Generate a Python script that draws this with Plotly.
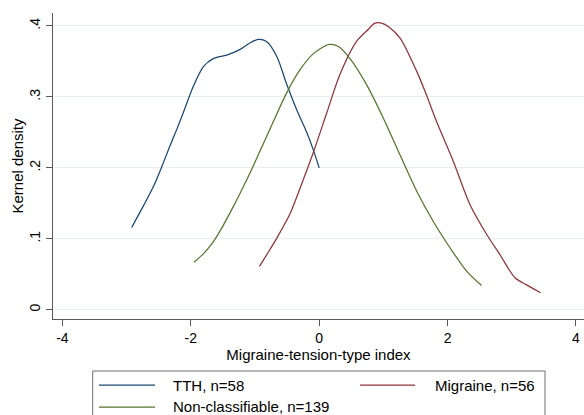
import plotly.graph_objects as go

# ---- data ----
tth_x = [-2.92, -2.74, -2.58, -2.45, -2.32, -2.21, -2.12, -1.96, -1.80, -1.65, -1.44,
         -1.23, -1.08, -0.95, -0.82, -0.66, -0.51, -0.35, -0.19, -0.09, 0.00]
tth_y = [0.116, 0.146, 0.174, 0.202, 0.232, 0.256, 0.277, 0.315, 0.343, 0.354, 0.359,
         0.367, 0.376, 0.381, 0.378, 0.357, 0.319, 0.282, 0.249, 0.225, 0.200]

noncl_x = [-1.95, -1.80, -1.67, -1.55, -1.34, -1.13, -1.03, -0.92, -0.71, -0.51, -0.30,
           -0.09, 0.16, 0.30, 0.48, 0.74, 1.00, 1.26, 1.52, 1.78, 2.04, 2.30, 2.53]
noncl_y = [0.067, 0.079, 0.093, 0.110, 0.145, 0.183, 0.202, 0.224, 0.266, 0.305, 0.338,
           0.361, 0.374, 0.371, 0.354, 0.317, 0.270, 0.218, 0.167, 0.124, 0.087, 0.054, 0.034]

mig_x = [-0.93, -0.80, -0.66, -0.45, -0.27, -0.09, 0.12, 0.32, 0.58, 0.74, 0.87, 0.97,
         1.08, 1.26, 1.52, 1.67, 1.83, 2.09, 2.35, 2.61, 2.82, 3.05, 3.23, 3.45]
mig_y = [0.061, 0.080, 0.101, 0.136, 0.178, 0.222, 0.278, 0.331, 0.378, 0.393, 0.404, 0.404,
         0.399, 0.383, 0.336, 0.303, 0.265, 0.209, 0.148, 0.106, 0.077, 0.045, 0.035, 0.024]

series_names = ["TTH, n=58", "Migraine, n=56", "Non-classifiable, n=139"]
series_colors = ["#1a476f", "#90353b", "#55752f"]

x_tickvals = [-4, -2, 0, 2, 4]
x_ticktext = ["-4", "-2", "0", "2", "4"]
y_tickvals = [0, 0.1, 0.2, 0.3, 0.4]
y_ticktext = ["0", ".1", ".2", ".3", ".4"]

# ---- layout geometry ----
W, H = 584, 415
ML, MR, MT, MB = 53, 0, 13, 96
PW, PH = W - ML - MR, H - MT - MB

def px_x(p):
    return (p - ML) / PW

def px_y(p):
    return (H - MB - p) / PH

FONT = "Liberation Sans, Arial, Helvetica, sans-serif"
AX = "#5a5a5a"

fig = go.Figure()
data = [(tth_x, tth_y), (mig_x, mig_y), (noncl_x, noncl_y)]
for (xs, ys), name, col in zip(data, series_names, series_colors):
    fig.add_trace(go.Scatter(x=xs, y=ys, mode="lines", name=name,
                             line=dict(color=col, width=1.25, shape="spline", smoothing=0.8),
                             showlegend=False))

# ---- custom legend (two columns, Stata style) ----
shapes = [dict(type="rect", xref="paper", yref="paper",
               x0=px_x(92.7), x1=px_x(545), y0=px_y(371), y1=px_y(440),
               line=dict(color="#6e6e6e", width=1), fillcolor="rgba(0,0,0,0)", layer="above")]
annotations = []
slots = [(99, 155, 171, 385), (360, 415, 433, 385), (99, 155, 171, 407)]
for (lx0, lx1, tx, ty), name, col in zip(slots, series_names, series_colors):
    shapes.append(dict(type="line", xref="paper", yref="paper",
                       x0=px_x(lx0), x1=px_x(lx1), y0=px_y(ty), y1=px_y(ty),
                       line=dict(color=col, width=1.25)))
    annotations.append(dict(xref="paper", yref="paper", x=px_x(tx), y=px_y(ty),
                            text=name, showarrow=False, xanchor="left", yanchor="middle",
                            font=dict(family=FONT, size=15, color="black")))

fig.update_layout(
    width=W, height=H,
    margin=dict(l=ML, r=MR, t=MT, b=MB, pad=0),
    paper_bgcolor="white", plot_bgcolor="white",
    font=dict(family=FONT, size=15, color="black"),
    shapes=shapes, annotations=annotations,
    xaxis=dict(range=[-4.146, 4.125], tickvals=x_tickvals, ticktext=x_ticktext,
               showgrid=False, zeroline=False, showline=True, linecolor=AX, linewidth=1,
               ticks="outside", ticklen=6, tickcolor=AX, tickfont=dict(size=14),
               title=dict(text="Migraine-tension-type index", font=dict(size=15), standoff=1)),
    yaxis=dict(range=[-0.0131, 0.4183], tickvals=y_tickvals, ticktext=y_ticktext,
               tickangle=-90, showgrid=True, gridcolor="#e9eef1", gridwidth=1,
               zeroline=False, showline=True, linecolor=AX, linewidth=1,
               ticks="outside", ticklen=6, tickcolor=AX, tickfont=dict(size=14),
               title=dict(text="Kernel density", font=dict(size=15), standoff=0)),
)

fig.write_html("out.html")
